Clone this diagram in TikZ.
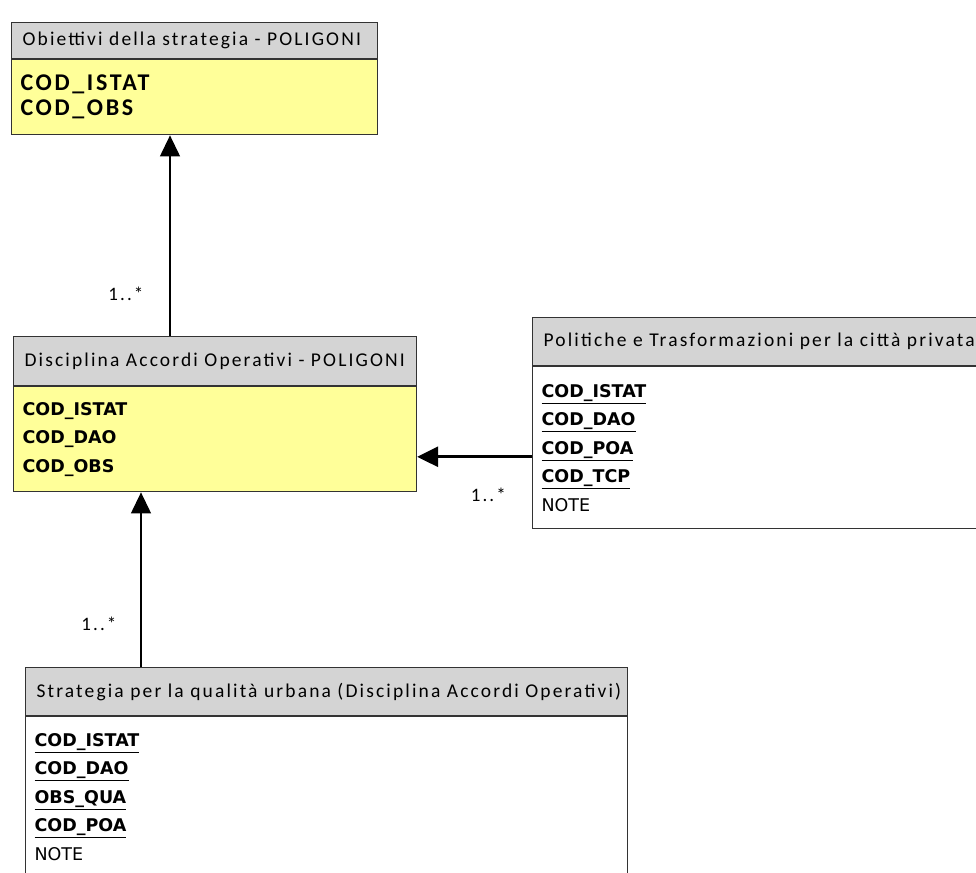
\documentclass[tikz,border=0pt]{standalone}
\usepackage{fontspec}
\setmainfont{Carlito}
\newfontfamily\hdrfont[LetterSpace=11]{Carlito}
\newfontfamily\fieldfont{DejaVu Sans}
\usetikzlibrary{arrows.meta, positioning}

\definecolor{hdrgray}{HTML}{D4D4D4}
\definecolor{keyyellow}{HTML}{FFFF99}
\definecolor{edgegray}{HTML}{333333}

\begin{document}
\begin{tikzpicture}[
  x=1pt, y=-1pt,
  node distance=0pt,
  hdr/.style={draw=edgegray, line width=1.2pt, fill=hdrgray, anchor=north west, inner xsep=11pt, align=left, font=\hdrfont\fontsize{19.5}{21}\selectfont},
  keys/.style={draw=edgegray, line width=1.2pt, fill=keyyellow, inner xsep=9pt, align=left, font=\fieldfont\bfseries\fontsize{17.5}{28.5}\selectfont},
  attrs/.style={draw=edgegray, line width=1.2pt, fill=white, inner xsep=9pt, align=left, font=\fieldfont\fontsize{17.5}{28.5}\selectfont},
  assoc/.style={-{Triangle[width=20pt,length=21pt]}, line width=1.2pt, draw=black},
  mult/.style={font=\hdrfont\fontsize{19}{20}\selectfont, inner sep=0pt}
]
\useasboundingbox (0,0) rectangle (976,872);

% Entities
\node[hdr, text width=344pt, minimum height=36pt] (obiHead) at (11,22) {Obiettivi della strategia - POLIGONI};
\node[keys, text width=348pt, minimum height=75pt, below=of obiHead, font=\hdrfont\bfseries\fontsize{24}{25}\selectfont] (obi) {COD\_ISTAT\\COD\_OBS};

\node[hdr, text width=381pt, minimum height=49pt] (daoHead) at (13,336) {Disciplina Accordi Operativi - POLIGONI};
\node[keys, text width=385pt, minimum height=105pt, below=of daoHead] (dao) {COD\_ISTAT\\COD\_DAO\\COD\_OBS};

\node[hdr, text width=448pt, minimum height=48pt] (polHead) at (532,317) {Politiche e Trasformazioni per la città privata};
\node[attrs, text width=452pt, minimum height=162pt, below=of polHead] (pol) {\textbf{\underline{COD\_ISTAT}}\\\textbf{\underline{COD\_DAO}}\\\textbf{\underline{COD\_POA}}\\\textbf{\underline{COD\_TCP}}\\NOTE};

\node[hdr, text width=580pt, minimum height=48pt] (squHead) at (25,667) {Strategia per la qualità urbana (Disciplina Accordi Operativi)};
\node[attrs, text width=584pt, minimum height=160pt, below=of squHead] (squ) {\textbf{\underline{COD\_ISTAT}}\\\textbf{\underline{COD\_DAO}}\\\textbf{\underline{OBS\_QUA}}\\\textbf{\underline{COD\_POA}}\\NOTE};

% Associations
\draw[assoc] ([xshift=157pt]daoHead.north west) -- ([xshift=159pt]obi.south west)
  node[mult, pos=0.21, left=26pt] (m1) {1..*};
\draw[assoc] ([xshift=116pt]squHead.north west) -- ([xshift=128pt]dao.south west)
  node[mult, pos=0.25, left=24pt] (m2) {1..*};
\draw[assoc, line width=3pt] ([yshift=-9pt]pol.west) coordinate (polEnd) -- (polEnd -| dao.east)
  node[mult, pos=0.38, below=30pt] (m3) {1..*};
\end{tikzpicture}
\end{document}
